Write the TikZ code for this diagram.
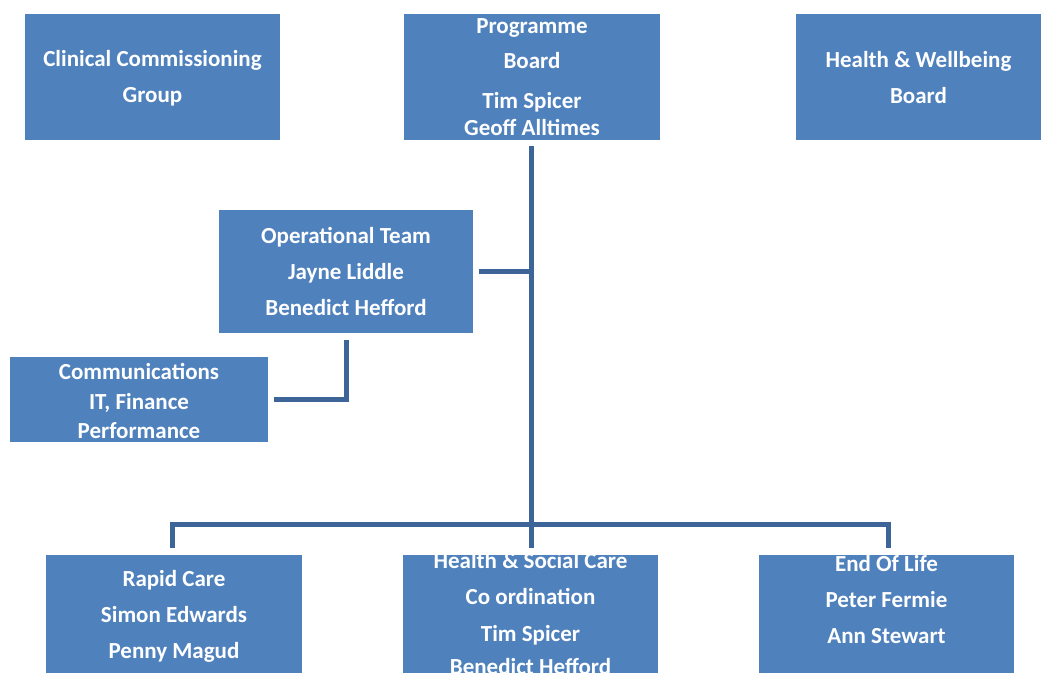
\documentclass[tikz,border=0pt]{standalone}
\usepackage{fontspec}
\setmainfont{Carlito}
\usetikzlibrary{positioning}
\definecolor{boxblue}{HTML}{4F81BD}
\definecolor{linkblue}{HTML}{3D6597}
\tikzset{
  box/.style={fill=boxblue, inner sep=0pt, minimum width=256pt, minimum height=126pt},
  txt/.style={text=white, align=center, inner sep=0pt, font=\bfseries\fontsize{23}{36}\selectfont},
  link/.style={draw=linkblue, line width=5pt}
}
\begin{document}
\begin{tikzpicture}[x=1pt, y=-1pt]
  \useasboundingbox (0,0) rectangle (1041,672);
  \clip (0,0) rectangle (1041,672);
  % top row
  \node[box, minimum width=255pt] (ccg) at (152.5,77) {};
  \node[box] (prog) at (532,77) {};
  \node[box, minimum width=245pt] (hwb) at (918.5,77) {};
  \node[txt] (ccgtext) at ([yshift=-1pt]ccg.center) {Clinical Commissioning\\Group};
  \node[txt] (progtext) at (prog.center) {Programme\\[-1pt]Board\\[4pt]Tim Spicer\\[-9pt]Geoff Alltimes};
  \node[txt] (hwbtext) at ([yshift=-1pt]hwb.center) {Health \& Wellbeing\\Board};
  % middle
  \node[box, minimum width=254pt, minimum height=123pt] (op) at (346,271.5) {};
  \node[txt] (optext) at (op.center) {Operational Team\\Jayne Liddle\\Benedict Hefford};
  \node[box, minimum width=258pt, minimum height=85pt] (comms) at (139,399.5) {};
  \node[txt, font=\bfseries\fontsize{23}{29.5}\selectfont] (commstext) at ([yshift=-1.5pt]comms.center) {Communications\\IT, Finance\\Performance};
  % bottom row
  \node[box, anchor=north] (rapid) at (174,555) {};
  \node[box, anchor=north, minimum width=255pt] (hsc) at (530.5,555) {};
  \node[box, anchor=north, minimum width=255pt] (eol) at (886.5,555) {};
  \node[txt] (rapidtext) at (174,616) {Rapid Care\\Simon Edwards\\Penny Magud};
  \node[txt] (hsctext) at (530.5,614) {Health \& Social Care\\Co ordination\\[1pt]Tim Spicer\\[-3pt]Benedict Hefford};
  \node[txt] (eoltext) at (886.5,600) {End Of Life\\Peter Fermie\\Ann Stewart};
  % connectors
  \coordinate (hub) at (531,524);
  \draw[link, shorten <=6pt] (prog.south -| hub) -- (hub);
  \draw[link, shorten <=6pt] (op.east) -- (op.east -| hub);
  \draw[link, shorten <=7pt, shorten >=6pt] (op.south) |- (comms.east);
  \draw[link, shorten <=7pt] ([xshift=-2pt]rapid.north) |- (hub);
  \draw[link, shorten <=7pt] ([xshift=1.5pt]eol.north) |- (hub);
  \draw[link, shorten <=7pt] (hsc.north -| hub) -- (hub);
\end{tikzpicture}
\end{document}
